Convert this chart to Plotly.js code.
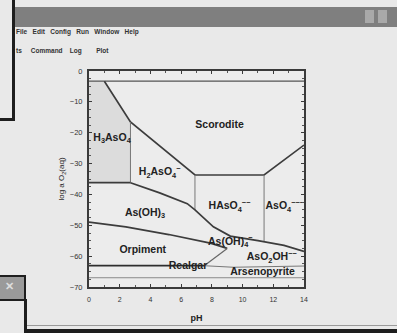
<!DOCTYPE html>
<html>
<head>
<meta charset="utf-8">
<script src="https://cdn.plot.ly/plotly-3.0.1.min.js"></script>
<style>
  html, body { margin:0; padding:0; width:397px; height:333px; overflow:hidden; background:#e9e9e9; font-family:"Liberation Sans", Arial, sans-serif; }
  #chart { position:absolute; left:0; top:0; width:397px; height:333px; }
  .chrome { position:absolute; }
  .menu { position:absolute; font-size:6.5px; font-weight:bold; color:#333; white-space:nowrap; }
</style>
</head>
<body>
<div class="chrome" style="left:15px;top:7px;width:382px;height:20px;background:#7f7f7f;"></div>
<div class="chrome" style="left:365px;top:10px;width:9px;height:13px;background:#a9a9a9;"></div>
<div class="chrome" style="left:378px;top:10px;width:9px;height:13px;background:#a9a9a9;"></div>
<div class="chrome" style="left:12px;top:0px;width:3px;height:121px;background:#1e1e1e;"></div>
<div class="chrome" style="left:0px;top:118px;width:15px;height:3px;background:#1e1e1e;"></div>
<div class="chrome" style="left:0px;top:275px;width:24px;height:22px;background:#9a9a9a;border:2px solid #1e1e1e;border-left:none;"></div>
<div class="chrome" style="left:24px;top:299px;width:3px;height:34px;background:#1e1e1e;"></div>
<div class="chrome" style="left:27px;top:325px;width:370px;height:1px;background:#9a9a9a;"></div>
<div class="chrome" style="left:27px;top:329px;width:370px;height:4px;background:#1e1e1e;"></div>
<div class="menu" style="left:16px;top:28px;">File&nbsp;&nbsp;&nbsp;Edit&nbsp;&nbsp;&nbsp;Config&nbsp;&nbsp;&nbsp;Run&nbsp;&nbsp;&nbsp;Window&nbsp;&nbsp;&nbsp;Help</div>
<div class="menu" style="left:16px;top:47px;">ts&nbsp;&nbsp;&nbsp;&nbsp;&nbsp;Command&nbsp;&nbsp;&nbsp;&nbsp;Log&nbsp;&nbsp;&nbsp;&nbsp;&nbsp;&nbsp;&nbsp;&nbsp;Plot</div>
<div class="menu" style="left:5px;top:280px;font-size:11px;color:#ddd;">&#x2715;</div>
<div id="chart"></div>
<script>
// ---- Data (pH, log a O2(aq)) ----
const xTicks = [0, 2, 4, 6, 8, 10, 12, 14];
const yTicks = [-70, -60, -50, -40, -30, -20, -10, 0];

const waterTopPH  = [0, 14];
const waterTopLog = [-3.3, -3.3];

const scoroditePH  = [1.0, 2.7, 6.9, 11.4, 14];
const scoroditeLog = [-3.3, -16.5, -33.7, -33.7, -24];

const h3h2PH  = [2.7, 2.7];
const h3h2Log = [-16.5, -36.2];

const h3BottomPH  = [0, 2.7];
const h3BottomLog = [-36.2, -36.2];

const h2hPH  = [6.9, 6.9];
const h2hLog = [-33.7, -45];

const hAsO4PH  = [11.4, 11.4];
const hAsO4Log = [-33.7, -55.4];

const redoxPH  = [2.7, 4.6, 6.4, 6.9, 8.1, 9.2, 11.0, 12.7, 14];
const redoxLog = [-36.2, -39.5, -43, -45, -50.5, -53.5, -55, -56.5, -58.5];

const orpTopPH  = [0, 2.4, 5.2, 7.9, 9.0];
const orpTopLog = [-49, -50.5, -53, -55.8, -57.5];

const orpRightPH  = [9.0, 7.6, 7.5];
const orpRightLog = [-57.5, -62.5, -63.1];

const realgarTopPH  = [0, 7.5];
const realgarTopLog = [-63.1, -63.1];

const arsenoTopPH  = [7.5, 9.4, 14];
const arsenoTopLog = [-63.1, -63.6, -63.2];

const lowerPH  = [0, 14];
const lowerLog = [-67, -67];

const h3RegionPH  = [0, 1.0, 2.7, 2.7, 0];
const h3RegionLog = [-3.3, -3.3, -16.5, -36.2, -36.2];

const labelText = ["H<sub>3</sub>AsO<sub>4</sub>", "H<sub>2</sub>AsO<sub>4</sub><sup>−</sup>", "Scorodite",
  "HAsO<sub>4</sub><sup>−−</sup>", "AsO<sub>4</sub><sup>−−−</sup>", "As(OH)<sub>3</sub>", "Orpiment",
  "Realgar", "As(OH)<sub>4</sub><sup>−</sup>", "AsO<sub>2</sub>OH<sup>−−</sup>", "Arsenopyrite"];
const labelPH  = [1.5, 4.6, 8.5, 9.15, 12.75, 3.65, 3.5, 6.45, 9.2, 11.9, 11.3];
const labelLog = [-21.7, -33, -17.5, -44, -44, -46, -58, -63.4, -55.5, -60.5, -65.2];

// ---- Build traces ----
const lineColor = "#3c3c3c";
function boundary(x, y, color, width) {
  return { type: "scatter", mode: "lines", x: x, y: y, hoverinfo: "skip", showlegend: false,
           line: { color: color || lineColor, width: width || 1.7 } };
}
const traces = [
  { type: "scatter", mode: "lines", x: h3RegionPH, y: h3RegionLog, fill: "toself",
    fillcolor: "#dcdcdc", line: { width: 0 }, hoverinfo: "skip", showlegend: false },
  boundary(waterTopPH, waterTopLog, "#555", 1.3),
  boundary(scoroditePH, scoroditeLog),
  boundary(h3h2PH, h3h2Log, "#777", 1),
  boundary(h3BottomPH, h3BottomLog),
  boundary(h2hPH, h2hLog, "#777", 1),
  boundary(hAsO4PH, hAsO4Log, "#777", 1),
  boundary(redoxPH, redoxLog),
  boundary(orpTopPH, orpTopLog),
  boundary(orpRightPH, orpRightLog, "#666", 1.2),
  boundary(realgarTopPH, realgarTopLog, "#2e2e2e", 1.8),
  boundary(arsenoTopPH, arsenoTopLog, "#777", 1),
  boundary(lowerPH, lowerLog, "#8a8a8a", 1),
  { type: "scatter", mode: "text", x: labelPH, y: labelLog, text: labelText, hoverinfo: "skip",
    showlegend: false, textposition: "middle center",
    textfont: { family: "Liberation Sans, Arial, sans-serif", size: 10.5, color: "#222", weight: "bold" } }
];

const layout = {
  width: 397, height: 333,
  margin: { l: 89, r: 93, t: 71, b: 46 },
  paper_bgcolor: "rgba(0,0,0,0)",
  plot_bgcolor: "#ececec",
  showlegend: false,
  font: { family: "Liberation Sans, Arial, sans-serif", color: "#222" },
  xaxis: {
    range: [0, 14], tickvals: xTicks, ticktext: xTicks.map(String),
    showgrid: false, zeroline: false, showline: true, linecolor: "#3a3a3a", linewidth: 2, mirror: "ticks",
    ticks: "inside", ticklen: 3, tickcolor: "#3a3a3a", ticklabelstandoff: 5,
    minor: { dtick: 1, ticks: "inside", ticklen: 2, tickcolor: "#555" },
    tickfont: { size: 7, color: "#333" },
    title: { text: "pH", font: { size: 9, color: "#222", weight: "bold" }, standoff: 12 }
  },
  yaxis: {
    range: [-70, 0], tickvals: yTicks, ticktext: yTicks.map(v => v === 0 ? "0" : "−" + Math.abs(v)),
    showgrid: false, zeroline: false, showline: true, linecolor: "#3a3a3a", linewidth: 2, mirror: "ticks",
    ticks: "inside", ticklen: 3, tickcolor: "#3a3a3a", ticklabelstandoff: 3,
    minor: { dtick: 2.5, ticks: "inside", ticklen: 2, tickcolor: "#555" },
    tickfont: { size: 7.5, color: "#333" },
    title: { text: "log a O<sub>2</sub>(aq)", font: { size: 8, color: "#222" }, standoff: 4 }
  }
};

Plotly.newPlot("chart", traces, layout, { staticPlot: true, displayModeBar: false });
</script>
</body>
</html>
